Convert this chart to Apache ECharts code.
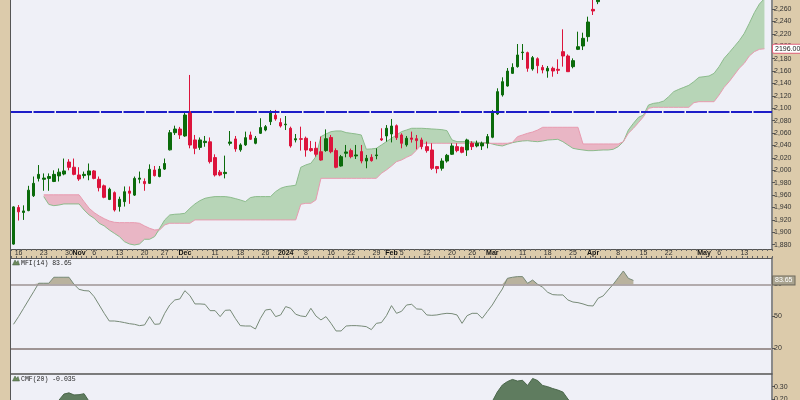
<!DOCTYPE html>
<html><head><meta charset="utf-8">
<script src="https://cdn.jsdelivr.net/npm/echarts@6/dist/echarts.min.js"></script>
<style>html,body{margin:0;padding:0;background:#dccbab}#c{width:800px;height:400px}</style>
</head><body><div id="c"></div>
<script>
// ---------- data ----------
const startDate = '2023-10-13';
const dayCount = 151;
const holidays = ['2023-11-23','2023-12-25','2024-01-01','2024-01-15','2024-02-19','2024-03-29'];

// [open, high, low, close]
const ohlc = [
[1881,1942,1880,1941],[1940,1944,1919,1933],[1932,1943.5,1920,1934.5],[1935,1975,1934,1968],[1959,1990,1957,1979],
[1987,2008.5,1982,1993.5],[1985.5,1995,1967,1987.5],[1987,1995,1967,1990],[1982,2000,1981,1993.5],[1991,2003,1982,1997],
[1994,2019,1992,1999],[2013.4,2018,2000,2004.8],[2005,2019,1992,1993.5],[1992.5,2005,1983,1986],[1991.5,1998,1987,1993.5],
[1992.5,2011,1984,1999],[1999,2000.5,1985.5,1987],[1985.5,1990,1966,1972],[1975,1977,1955,1956.5],[1953,1972,1952,1969.5],
[1964,1966,1933.5,1936],[1941.5,1957.5,1933.5,1953.3],[1949.5,1974,1941.5,1965.5],[1966.6,1974,1946,1963],[1960,1990,1958.6,1987],
[1985.6,1998,1979,1987.5],[1982,1987,1967,1978.5],[1979,2009.6,1978,2001.6],[2000.5,2007,1990,1991.4],[1990,2007,1988.7,2002],
[2002,2019,2000.5,2011],[2033,2065,2032,2060.7],[2060.7,2072,2057,2066.6],[2066.6,2070,2050.5,2057],[2055.4,2094.6,2054,2089.2],
[2094.6,2153.8,2035.5,2040.8],[2049,2057,2026,2035.5],[2037,2053,2033,2049],[2044.7,2055.4,2038,2046.8],[2046,2053,2011,2014],
[2020.5,2025.8,1990,1992.5],[1997,2000.5,1990.5,1992.5],[1994.7,2023.7,1987,1996.7],[2043.5,2063.4,2040,2045.7],[2050.6,2055.4,2030,2034.5],
[2033,2043.6,2030,2041],[2041,2062.4,2039.3,2052.7],[2057,2062.4,2049,2050],[2043.6,2055.4,2042,2051.7],[2059.7,2084,2058.6,2068.9],
[2065,2073,2063,2070.4],[2078.5,2097,2073,2093],[2089,2097.4,2080,2082.8],[2077,2084,2069,2071.5],[2073.5,2087.6,2065,2074.5],
[2067.8,2070.4,2036.6,2039.3],[2049,2058.6,2045,2051],[2051,2070.4,2031.8,2050],[2051.7,2054.4,2022,2032.8],[2035,2047.4,2030,2031.8],
[2035.5,2046,2022,2025.9],[2030,2054.4,2015.6,2016.6],[2031.8,2066,2030,2051],[2053,2057,2027.5,2030],[2031.8,2035.5,2003.3,2004.9],
[2007,2024.8,2006,2022],[2027.5,2040.9,2021,2029.6],[2031.8,2035,2019.4,2022.1],[2023.2,2040.9,2018.3,2024.8],[2030.2,2040.9,2011.3,2015],
[2015,2024.8,2003.3,2019.4],[2021,2025.9,2014,2015.6],[2023.7,2035.5,2017.8,2024.8],[2051,2067.8,2047.4,2049],[2055.4,2073,2046.3,2067.8],
[2058.6,2082.8,2045,2071.5],[2072,2074,2049,2052.7],[2057,2059.7,2035.5,2043.6],[2041.1,2055.4,2038.2,2051.7],[2052.2,2062.4,2044.7,2050],
[2051,2057,2033.9,2047.9],[2049,2052.7,2033.9,2038.2],[2038.2,2046.3,2028.5,2031.8],[2032.8,2043.6,2000.6,2003.3],[2006,2007,1995.2,2002.7],
[2003.3,2019.4,1999.5,2015],[2015,2026.4,2012.4,2024.2],[2025.9,2043.6,2024.8,2039.3],[2038.2,2043.6,2029.1,2031.8],[2037.1,2038.2,2027.5,2029.1],
[2032.8,2051,2023.2,2049],[2043.6,2046.8,2032.8,2038.2],[2039.3,2047.9,2037.1,2043.6],[2039.3,2046.3,2032.8,2043.6],[2043.6,2058.6,2035.5,2054.4],
[2053.3,2097.4,2051.7,2094.7],[2090.9,2132.3,2089.3,2126.9],[2121.6,2150,2118.9,2143],[2136,2165,2135,2160],[2156.4,2172.6,2155.4,2166],
[2167.2,2203.7,2165.6,2186],[2189.8,2203.7,2178,2190.7],[2189.8,2191.4,2159,2164.5],[2163.4,2184.4,2160.7,2181.7],[2180,2182.2,2156.4,2168.8],
[2166,2169.9,2156.4,2161.8],[2160.2,2168.3,2149.4,2164.5],[2164.5,2167.2,2151,2160.2],[2162.9,2179,2155.4,2161.3],[2191.4,2227.4,2167.2,2184.4],
[2184.4,2187,2159,2159.1],[2167.2,2180.6,2164.5,2176.9],[2195.1,2223.6,2194,2199.4],[2200.5,2222,2194,2212.9],[2215.6,2247.8,2207.5,2239.2],
[2259.6,2280,2250.5,2257],[2272,2290,2268,2286]
];

const spanStart = 6;
const spanA = [
1957.6,1945,1943,1944,1945.8,1945.8,1945.8,1945.8,1936,1928,1922.6,1914.6,1910.3,1903.8,1898.4,1893.1,1885,1881.2,1879.6,1881.2,
1888.8,1888.8,1893.1,1906.5,1920,1928,1929.1,1929.6,1930.7,1938.8,1945.8,1951.1,1954.9,1956.5,1957.6,1957.6,1957.6,1956.5,1954.4,1952.2,
1949.5,1956,1957.6,1957.6,1957.6,1957.6,1965.6,1971,1973.7,1974.8,1975.9,2004.9,2008.7,2011.3,2022.1,2054.4,2058.6,2062.4,2063.5,2063.5,
2060.8,2059.7,2058.6,2057,2034,2034.5,2035.5,2040.9,2046.3,2051.7,2057,2062.4,2065.1,2067.8,2067.8,2067.8,2067.3,2066.7,2066.2,2065.6,
2064,2049,2046.3,2046.3,2046.3,2045.7,2045.2,2044.7,2044.7,2042.5,2040.4,2039.3,2042,2044.6,2046.2,2047.3,2047.8,2046.8,2046.2,2047.3,
2048.9,2049.4,2050,2046.2,2040.8,2035.5,2033.9,2032.8,2031.7,2031.7,2032.3,2032.8,2032.8,2033.9,2038.2,2046,2065,2075.8,2085.5,2089.2,
2105.4,2108,2109.1,2111.8,2118.8,2126.9,2130.6,2133.8,2137.1,2143,2150,2151,2152.1,2156.4,2167.2,2180.6,2189.8,2199.4,2209.1,2220.9,
2237.1,2254.3,2268.2,2277
];
const spanB = [
1960.5,1960.5,1960.5,1960.5,1960.5,1960.5,1960.5,1960.5,1949.5,1938.8,1931.8,1926.4,1922,1918.3,1916.2,1915.6,1915.6,1915.6,1915.6,1914.6,
1910.3,1906.5,1903.8,1903.8,1912,1914.6,1914.6,1914.6,1914.6,1914.6,1920,1920,1920,1920,1920,1920,1920,1920,1920,1920,
1920,1920,1920,1920,1920,1920,1920,1920,1920,1920,1920,1945.2,1946.8,1946.8,1952.2,1987.1,1987.1,1987.1,1987.1,1987.1,
1987.1,1987.1,1987.1,1987.1,1987.1,1987.1,1987.1,1995.2,2000.6,2007,2014,2016.7,2021,2024.8,2032.8,2042.5,2043.6,2043.6,2043.6,2043.6,
2043.6,2043.6,2043.6,2043.6,2043.6,2043.6,2043.6,2043.6,2043.6,2043.6,2043.6,2043.6,2043.6,2045,2054.3,2057,2059.7,2061.8,2065,2069.4,
2069.4,2069.4,2069.4,2069.4,2069.4,2069.4,2069.4,2042.5,2042.5,2042.5,2042.5,2042.5,2042.5,2042.5,2042.5,2046.2,2059.7,2067.7,2076.9,2086.5,
2100,2101.6,2101.6,2101.6,2101.6,2101.6,2101.6,2101.6,2101.6,2109.1,2110.7,2110.7,2110.7,2110.7,2121.5,2133.8,2143,2153.7,2164.5,2172.6,
2184.4,2191.4,2195.1,2196
];

const mfi = [
42.5,49.7,57.5,65.3,73.1,81,81,81,86.6,86.6,86.6,86.6,80,75.3,74.1,73.75,68.4,60.6,52.8,45.6,
45.6,45,44.1,43.1,42.5,41.25,41.9,49.7,42.5,42.8,52.8,60.6,65.3,66.25,74,69.4,61.6,61.6,61.25,55.3,
55.3,49.7,55.6,55.9,48.1,41.25,40.9,40.9,38.1,48.1,55.9,56.6,49.7,51.25,59.1,57.5,51.9,50.3,49.7,57.5,
50.3,46.6,49.7,43.4,36.25,36.25,40.9,41.25,41.25,40.9,40.3,37.5,43.4,44.1,50.6,60,52.8,54.7,60.6,61.25,
56.9,56.6,51.25,50.9,51.25,52.2,52.8,52.5,51.25,43.4,50.6,52.8,52.8,48.1,54.4,60.6,68.4,75.6,85.6,86.6,
87.2,87.2,80.9,84,80,77.2,72.5,70.3,70,70,65.3,63.4,62.8,61.6,60,59.7,66.9,69.1,74.7,80,
86.25,92.5,85.6,83.65
];
const mfiLevels = [80, 20];

const cmfSeg1Start = 8;
const cmfSeg1 = [0.16,0.19,0.24,0.25,0.233,0.235,0.243,0.18,0.15];
const cmfSeg2Start = 94;
const cmfSeg2 = [0.15,0.18,0.257,0.314,0.342,0.359,0.346,0.352,0.31,0.367,0.35,0.31,0.30,0.285,0.273,0.257,0.20,0.15,0.12];
const cmfLast = -0.035;

const priceTicks = [1880,1900,1920,1940,1960,1980,2000,2020,2040,2060,2080,2100,2120,2140,2160,2180,2200,2220,2240,2260];
const mfiTicks = [20,50,80];
const cmfTicks = [0.3,0.2];
const resistance = 2095;

const tickDates = ['2023-10-16','2023-10-23','2023-10-30','2023-11-01','2023-11-06','2023-11-13','2023-11-20','2023-11-27','2023-12-01','2023-12-11','2023-12-18','2023-12-26','2024-01-02','2024-01-08','2024-01-16','2024-01-22','2024-01-29','2024-02-01','2024-02-05','2024-02-12','2024-02-20','2024-02-26','2024-03-01','2024-03-11','2024-03-18','2024-03-25','2024-04-01','2024-04-08','2024-04-15','2024-04-22','2024-05-01','2024-05-06','2024-05-13'];
const tickTexts = ['16','23','30','Nov','6','13','20','27','Dec','11','18','26','2024','8','16','22','29','Feb','5','12','20','26','Mar','11','18','25','Apr','8','15','22','May','6','13'];
const boldTicks = ['Nov','Dec','2024','Feb','Mar','Apr','May'];

// ---------- build ----------
function tradingDays(start, n, hol) {
  const out = [];
  const d = new Date(start + 'T00:00:00Z');
  while (out.length < n) {
    const wd = d.getUTCDay();
    const s = d.toISOString().slice(0, 10);
    if (wd !== 0 && wd !== 6 && hol.indexOf(s) < 0) out.push(s);
    d.setUTCDate(d.getUTCDate() + 1);
  }
  return out;
}
const dates = tradingDays(startDate, dayCount, holidays);
const pad = (arr, start) => dates.map((_, i) => (i >= start && i - start < arr.length) ? arr[i - start] : '-');
const labelMap = {};
tickDates.forEach((d, k) => labelMap[d] = tickTexts[k]);

const A = pad(spanA, spanStart), B = pad(spanB, spanStart);
const cloudBase = A.map((a, i) => a === '-' ? '-' : Math.min(a, B[i]));
const cloudUp = A.map((a, i) => a === '-' ? '-' : Math.max(0, a - B[i]));
const cloudDn = A.map((a, i) => a === '-' ? '-' : Math.max(0, B[i] - a));

const candle = ohlc.map(d => [d[0], d[3], d[2], d[1]]);
const mfiP = pad(mfi, 0);
const mfiBase = mfiP.map(v => v === '-' ? '-' : mfiLevels[0]);
const mfiOver = mfiP.map(v => v === '-' ? '-' : Math.max(0, v - mfiLevels[0]));
const cmfP = dates.map((_, i) => {
  if (i >= cmfSeg1Start && i - cmfSeg1Start < cmfSeg1.length) return cmfSeg1[i - cmfSeg1Start];
  if (i >= cmfSeg2Start && i - cmfSeg2Start < cmfSeg2.length) return cmfSeg2[i - cmfSeg2Start];
  return '-';
});

const FONT = 'Liberation Sans';
const BG = '#eff0f7';
const L = 11, W = 761;
const gridsDef = [
  {top: 0, height: 249},
  {top: 258, height: 115.3},
  {top: 373.3, height: 87.2}
];
const CLEAR = 'rgba(0,0,0,0)';

const chart = echarts.init(document.getElementById('c'), null, {renderer: 'canvas'});
const noLine = {show: false};
const option = {
  animation: false,
  backgroundColor: '#dccbab',
  grid: gridsDef.map(g => ({left: L, width: W, top: g.top, height: g.height, show: true,
    backgroundColor: BG, borderWidth: 0, outerBoundsMode: 'none', containLabel: false})),
  xAxis: [
    {type: 'category', gridIndex: 0, data: dates, boundaryGap: true,
     axisLine: {show: true, onZero: false, lineStyle: {color: '#555', width: 1}},
     axisTick: {show: true, interval: 0, length: 2, lineStyle: {color: '#666'}},
     axisLabel: {show: true, margin: 1, fontSize: 7, fontFamily: FONT, color: '#333',
       interval: (idx, val) => labelMap[val] !== undefined,
       formatter: (val) => { const t = labelMap[val] || ''; return boldTicks.indexOf(t) >= 0 ? '{b|' + t + '}' : t; },
       rich: {b: {fontWeight: 'bold', fontSize: 7, fontFamily: FONT, color: '#111'}}},
     splitLine: noLine},
    {type: 'category', gridIndex: 1, data: dates, boundaryGap: true, position: 'top',
     axisLine: {show: true, onZero: false, lineStyle: {color: '#555', width: 1}},
     axisTick: {show: true, interval: 0, length: 2, lineStyle: {color: '#666'}},
     axisLabel: {show: false}, splitLine: noLine},
    {type: 'category', gridIndex: 2, data: dates, boundaryGap: true, position: 'top',
     axisLine: {show: true, onZero: false, lineStyle: {color: '#555', width: 1.5}},
     axisTick: {show: false}, axisLabel: {show: false}, splitLine: noLine}
  ],
  yAxis: [
    {type: 'value', gridIndex: 0, position: 'right', min: 1873.1, max: 2274.7,
     axisLine: {show: true, onZero: false, lineStyle: {color: '#8a8a8a', width: 2}},
     axisTick: {show: true, customValues: priceTicks, length: 3, lineStyle: {color: '#555'}},
     axisLabel: {show: true, customValues: priceTicks, fontSize: 7, fontFamily: FONT, color: '#333', margin: 2},
     splitLine: noLine},
    {type: 'value', gridIndex: 1, position: 'right', min: -3.44, max: 104.66,
     axisLine: {show: true, onZero: false, lineStyle: {color: '#8a8a8a', width: 2}},
     axisTick: {show: true, customValues: mfiTicks, length: 3, lineStyle: {color: '#555'}},
     axisLabel: {show: true, customValues: mfiTicks, fontSize: 7, fontFamily: FONT, color: '#333', margin: 2},
     splitLine: noLine},
    {type: 'value', gridIndex: 2, position: 'right', min: -0.3, max: 0.409,
     axisLine: {show: true, onZero: false, lineStyle: {color: '#8a8a8a', width: 2}},
     axisTick: {show: true, customValues: cmfTicks, length: 3, lineStyle: {color: '#555'}},
     axisLabel: {show: true, customValues: cmfTicks, fontSize: 7, fontFamily: FONT, color: '#333', margin: 2,
       formatter: v => Number(v).toFixed(2)},
     splitLine: noLine}
  ],
  series: [
    {type: 'line', xAxisIndex: 0, yAxisIndex: 0, stack: 'cloud', data: cloudBase, symbol: 'none',
     lineStyle: {width: 0, opacity: 0}, silent: true, z: 1},
    {type: 'line', xAxisIndex: 0, yAxisIndex: 0, stack: 'cloud', data: cloudUp, symbol: 'none',
     lineStyle: {width: 0, opacity: 0}, areaStyle: {color: '#b7d5b7', opacity: 1}, silent: true, z: 1},
    {type: 'line', xAxisIndex: 0, yAxisIndex: 0, stack: 'cloud', data: cloudDn, symbol: 'none',
     lineStyle: {width: 0, opacity: 0}, areaStyle: {color: '#e9b6c5', opacity: 1}, silent: true, z: 1},
    {type: 'line', xAxisIndex: 0, yAxisIndex: 0, data: A, symbol: 'none',
     lineStyle: {color: '#8cbb8c', width: 1}, silent: true, z: 2},
    {type: 'line', xAxisIndex: 0, yAxisIndex: 0, data: B, symbol: 'none',
     lineStyle: {color: '#e89bb0', width: 1}, silent: true, z: 2,
     markLine: {silent: true, symbol: ['none', 'none'], lineStyle: {color: CLEAR, width: 1, type: 'solid'},
       data: [{yAxis: spanB[spanB.length - 1]}],
       label: {show: true, position: 'end', distance: 1, formatter: spanB[spanB.length - 1].toFixed(2),
         backgroundColor: '#ffffff', borderColor: '#e0607a', borderWidth: 1, borderRadius: 1,
         padding: [1, 2, 0, 2], fontSize: 7, fontFamily: FONT, color: '#222'}}},
    {type: 'candlestick', xAxisIndex: 0, yAxisIndex: 0, data: candle, barWidth: 3, z: 4,
     itemStyle: {color: '#0b6b0b', color0: '#dc143c', borderColor: '#0b6b0b', borderColor0: '#dc143c', borderWidth: 1},
     markLine: {silent: true, symbol: ['none', 'none'],
       lineStyle: {color: '#1c1cc8', width: 2, type: [21, 1.5]},
       label: {show: false}, data: [{yAxis: resistance}]}},
    {type: 'line', xAxisIndex: 1, yAxisIndex: 1, stack: 'mfi', data: mfiBase, symbol: 'none',
     lineStyle: {width: 0, opacity: 0}, silent: true, z: 1},
    {type: 'line', xAxisIndex: 1, yAxisIndex: 1, stack: 'mfi', data: mfiOver, symbol: 'none',
     lineStyle: {width: 0, opacity: 0}, areaStyle: {color: '#b9b29e', opacity: 1}, silent: true, z: 1},
    {type: 'line', xAxisIndex: 1, yAxisIndex: 1, data: mfiP, symbol: 'none',
     lineStyle: {color: '#778a77', width: 1}, silent: true, z: 3,
     markLine: {silent: true, symbol: ['none', 'none'],
       data: [
         {yAxis: mfiLevels[0], lineStyle: {color: '#9e9494', width: 1.5, type: 'solid'}, label: {show: false}},
         {yAxis: mfiLevels[1], lineStyle: {color: '#9e9494', width: 2, type: 'solid'}, label: {show: false}},
         {yAxis: mfi[mfi.length - 1], lineStyle: {color: CLEAR, width: 1, type: 'solid'},
          label: {show: true, position: 'end', distance: 1, formatter: mfi[mfi.length - 1].toFixed(2),
            backgroundColor: '#a9a38f', borderColor: '#6f6a5e', borderWidth: 1,
            padding: [1, 2, 0, 2], fontSize: 7, fontFamily: FONT, color: '#ffffff'}}
       ]}},
    {type: 'line', xAxisIndex: 2, yAxisIndex: 2, data: cmfP, symbol: 'none',
     lineStyle: {color: '#4a664a', width: 1}, areaStyle: {color: '#5f7c5f', opacity: 1}, silent: true, z: 2}
  ],
  graphic: [
    {type: 'line', shape: {x1: 10.5, y1: 0, x2: 10.5, y2: 400}, style: {stroke: '#555', lineWidth: 1}, z: 50},
    {type: 'polygon', shape: {points: [[12.5, 265], [15, 260], [16.5, 262.5], [18, 260.5], [19.5, 265]]},
     style: {fill: '#6d8a5d', stroke: '#3f5a3f', lineWidth: 0.5}, z: 50},
    {type: 'text', x: 21, y: 259.5, style: {text: 'MFI(14) ' + mfi[mfi.length - 1].toFixed(2),
      font: '6.5px "Liberation Mono"', fill: '#222'}, z: 50},
    {type: 'polygon', shape: {points: [[12.5, 381], [15, 376], [16.5, 378.5], [18, 376.5], [19.5, 381]]},
     style: {fill: '#6d8a5d', stroke: '#3f5a3f', lineWidth: 0.5}, z: 50},
    {type: 'text', x: 21, y: 375.5, style: {text: 'CMF(20) ' + cmfLast.toFixed(3),
      font: '6.5px "Liberation Mono"', fill: '#222'}, z: 50}
  ]
};
try { chart.setOption(option); } catch (e) { document.body.insertAdjacentHTML('beforeend', '<pre id="err">' + e.stack + '</pre>'); console.error(e); }
</script>
</body></html>
